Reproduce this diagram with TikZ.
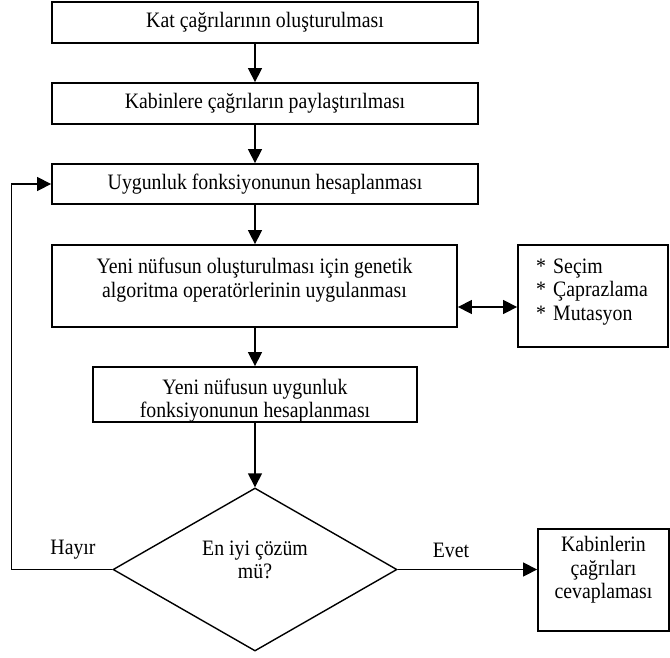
\documentclass[tikz,border=0pt]{standalone}
\usepackage{fontspec}
\setmainfont{Liberation Serif}[FakeStretch=0.9]
\usetikzlibrary{arrows.meta,shapes.geometric,calc}
\begin{document}
\begin{tikzpicture}[x=1pt,y=-1pt,
  txt/.style={font=\fontsize{22}{23.5}\selectfont, align=center},
  box/.style={draw, line width=1.8pt, rectangle, inner sep=0pt, txt},
  conn/.style={line width=1.4pt, -{Triangle[length=14pt,width=14pt]}},
  dbl/.style={line width=1.4pt, {Triangle[length=14pt,width=14pt]}-{Triangle[length=14pt,width=14pt]}}]
\useasboundingbox (0,0) rectangle (670,657);

\node[box, minimum width=426pt, minimum height=41pt] (b1) at (265,22.5) {Kat çağrılarının oluşturulması};
\node[box, minimum width=426pt, minimum height=41pt] (b2) at (265,103.5) {Kabinlere çağrıların paylaştırılması};
\node[box, minimum width=426pt, minimum height=40pt] (b3) at (265,184) {Uygunluk fonksiyonunun hesaplanması};
\node[box, minimum width=405pt, minimum height=82pt,
  label={[txt, yshift=6pt]center:Yeni nüfusun oluşturulması için genetik\\algoritma operatörlerinin uygulanması}] (b4) at (254.5,286) {};
\node[box, minimum width=150pt, minimum height=102pt,
  label={[txt, align=left, text width=114pt, yshift=4pt]center:{*} Seçim\\{*} Çaprazlama\\{*} Mutasyon}] (side) at (593,296) {};
\node[box, minimum width=324pt, minimum height=55pt,
  label={[txt, yshift=-6pt]center:Yeni nüfusun uygunluk\\fonksiyonunun hesaplanması}] (b6) at (255,394.5) {};
\node[draw, diamond, line width=1.4pt, inner sep=0pt, minimum width=284pt, minimum height=163pt] (dia) at (255,569.5) {};
\node[txt] (dq) at (255,560) {En iyi çözüm\\mü?};
\node[box, minimum width=131pt, minimum height=102pt,
  label={[txt, yshift=10pt]center:Kabinlerin\\çağrıları\\cevaplaması}] (b7) at (603.5,580) {};

\draw[conn] (b1.south -| dia.north) -- (b2.north -| dia.north);
\draw[conn] (b2.south -| dia.north) -- (b3.north -| dia.north);
\draw[conn] (b3.south -| dia.north) -- (b4.north -| dia.north);
\draw[conn] (b4.south -| dia.north) -- (b6.north -| dia.north);
\draw[conn] (b6.south -| dia.north) -- (dia.north);
\draw[dbl] ([yshift=-21pt]b4.east) -- ([yshift=-21pt]b4.east -| side.west);
\draw[conn] (dia.east) -- (dia.east -| b7.west);
\draw[conn] (dia.west) -- ++(-101,0) |- (b3.west);
\node[txt] (hayir) at (73,550) {Hayır};
\node[txt] (evet) at (451,550) {Evet};
\end{tikzpicture}
\end{document}
